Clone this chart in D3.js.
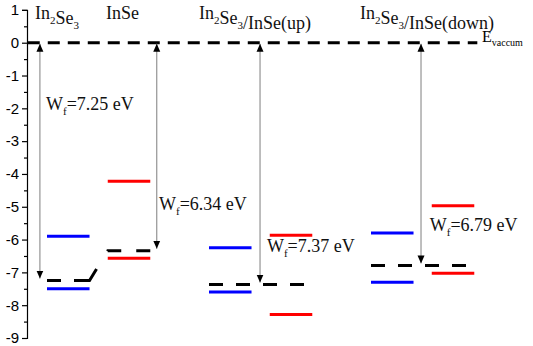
<!DOCTYPE html>
<html>
<head>
<meta charset="utf-8">
<script src="https://cdn.jsdelivr.net/npm/d3@7"></script>
<style>
  body { margin: 0; background: #fff; }
  svg { display: block; }
</style>
</head>
<body>
<div id="chart"></div>
<script>
// energies in eV, relative to the vacuum level
const systems = ["In2Se3", "InSe", "In2Se3/InSe(up)", "In2Se3/InSe(down)"];
const workFunction = [7.25, 6.34, 7.37, 6.79];
const blueLevels = [-5.9, -7.5, -6.25, -7.6, -5.8, -7.3];
const redLevels = [-4.22, -6.57, -5.87, -8.28, -4.97, -7.03];
const yTicks = [1, 0, -1, -2, -3, -4, -5, -6, -7, -8, -9];

// layout (slot units along x)
const blueSlot = [0, 0, 8, 8, 16, 16];
const redSlot = [3, 3, 11, 11, 19, 19];
const barSlots = 2.1;
const arrowSlot = [-0.35, 5.42, 10.52, 18.47];
const wfLabelSlot = [-0.05, 5.53, 10.86, 18.9];
const wfLabelE = [-2.05, -5.1, -6.38, -5.74];
const titleX = [35, 106, 199, 360];

const width = 533, height = 346;

const svg = d3.select("#chart")
    .append("svg")
    .attr("width", width)
    .attr("height", height);

const y = d3.scaleLinear().domain([1, -9]).range([9.9, 338]);
const x = d3.scaleLinear().domain([0, 1]).range([47, 67.25]);

// left axis, major ticks with labels
const axisG = svg.append("g").attr("transform", "translate(27,0)");
axisG.call(d3.axisLeft(y).tickValues(yTicks).tickFormat(d => d < 0 ? "-" + Math.abs(d) : d).tickSize(5).tickPadding(3));
axisG.selectAll(".tick text")
    .attr("fill", "#000")
    .style("font-family", "'Liberation Sans', Arial, sans-serif")
    .style("font-size", "15px");

// minor ticks
const minorG = axisG.append("g")
    .call(d3.axisLeft(y).tickValues(d3.range(0.5, -9, -1)).tickSize(3).tickFormat(""));
minorG.select(".domain").remove();
minorG.selectAll(".tick text").remove();

axisG.selectAll(".domain").attr("stroke", "#000").attr("stroke-width", 1.2);
axisG.selectAll(".tick line").attr("stroke", "#000").attr("stroke-width", 1.2);

// vacuum level
svg.append("line")
    .attr("x1", x(-0.95)).attr("x2", x(21.25))
    .attr("y1", y(0)).attr("y2", y(0))
    .attr("stroke", "#000").attr("stroke-width", 3)
    .attr("stroke-dasharray", "12,8");

const serif = "'Liberation Serif', 'Times New Roman', serif";
const evac = svg.append("text")
    .attr("x", 482).attr("y", 42)
    .style("font-family", serif)
    .style("font-size", "16px");
evac.append("tspan").text("E");
evac.append("tspan").attr("dy", 4).style("font-size", "10px").text("vaccum");

// Fermi levels (dashed black)
const fermi = workFunction.map(w => -w);
const line = d3.line().x(d => x(d[0])).y(d => y(d[1]));
const fermiPaths = [
    { pts: [[0, fermi[0]], [barSlots, fermi[0]], [3, fermi[1]], [3 + barSlots, fermi[1]]], dash: "14,13,29,21,14,15,15" },
    { pts: [[8, fermi[2]], [11 + barSlots, fermi[2]]], dash: "14,13" },
    { pts: [[16, fermi[3]], [19 + barSlots, fermi[3]]], dash: "14,13" }
];
svg.append("g").selectAll("path")
    .data(fermiPaths)
    .join("path")
    .attr("d", d => line(d.pts))
    .attr("fill", "none")
    .attr("stroke", "#000")
    .attr("stroke-width", 3)
    .attr("stroke-dasharray", d => d.dash);

// band edges
function drawLevels(levels, slots, color) {
    svg.append("g").selectAll("line")
        .data(levels)
        .join("line")
        .attr("x1", (d, i) => x(slots[i]))
        .attr("x2", (d, i) => x(slots[i] + barSlots))
        .attr("y1", d => y(d))
        .attr("y2", d => y(d))
        .attr("stroke", color)
        .attr("stroke-width", 3);
}
drawLevels(blueLevels, blueSlot, "#0000ff");
drawLevels(redLevels, redSlot, "#ff0000");

// work function arrows
const defs = svg.append("defs");
defs.append("marker")
    .attr("id", "head")
    .attr("viewBox", "0 0 8 10")
    .attr("refX", 8).attr("refY", 5)
    .attr("markerWidth", 8).attr("markerHeight", 10)
    .attr("markerUnits", "userSpaceOnUse")
    .attr("orient", "auto-start-reverse")
    .append("path")
    .attr("d", "M0,1.5 L8,5 L0,8.5 Z")
    .attr("fill", "#000");

svg.append("g").selectAll("line")
    .data(workFunction)
    .join("line")
    .attr("x1", (d, i) => x(arrowSlot[i]))
    .attr("x2", (d, i) => x(arrowSlot[i]))
    .attr("y1", y(0) + 1)
    .attr("y2", d => y(-d) - 2)
    .attr("stroke", "#8a8a8a")
    .attr("stroke-width", 1.1)
    .attr("marker-start", "url(#head)")
    .attr("marker-end", "url(#head)");

// work function labels
const wf = svg.append("g").selectAll("text")
    .data(workFunction)
    .join("text")
    .attr("x", (d, i) => x(wfLabelSlot[i]))
    .attr("y", (d, i) => y(wfLabelE[i]))
    .style("font-family", serif)
    .style("font-size", "18px")
    .attr("fill", "#111");
wf.append("tspan").text("W");
wf.append("tspan").attr("dy", 5).style("font-size", "11px").text("f");
wf.append("tspan").attr("dy", -5).text(d => "=" + d.toFixed(2) + " eV");

// system titles, chemical subscripts
function addFormula(sel, s) {
    s.split(/(\d)/).forEach((part, k) => {
        if (!part) return;
        if (k % 2 === 1) {
            sel.append("tspan").attr("dy", 5).style("font-size", "11px").text(part);
            sel.append("tspan").attr("dy", -5).text("");
        } else {
            sel.append("tspan").text(part);
        }
    });
}
svg.append("g").selectAll("text")
    .data(systems)
    .join("text")
    .attr("x", (d, i) => titleX[i])
    .attr("y", 19)
    .style("font-family", serif)
    .style("font-size", "18px")
    .attr("fill", "#111")
    .each(function (d) { addFormula(d3.select(this), d); });
</script>
</body>
</html>
